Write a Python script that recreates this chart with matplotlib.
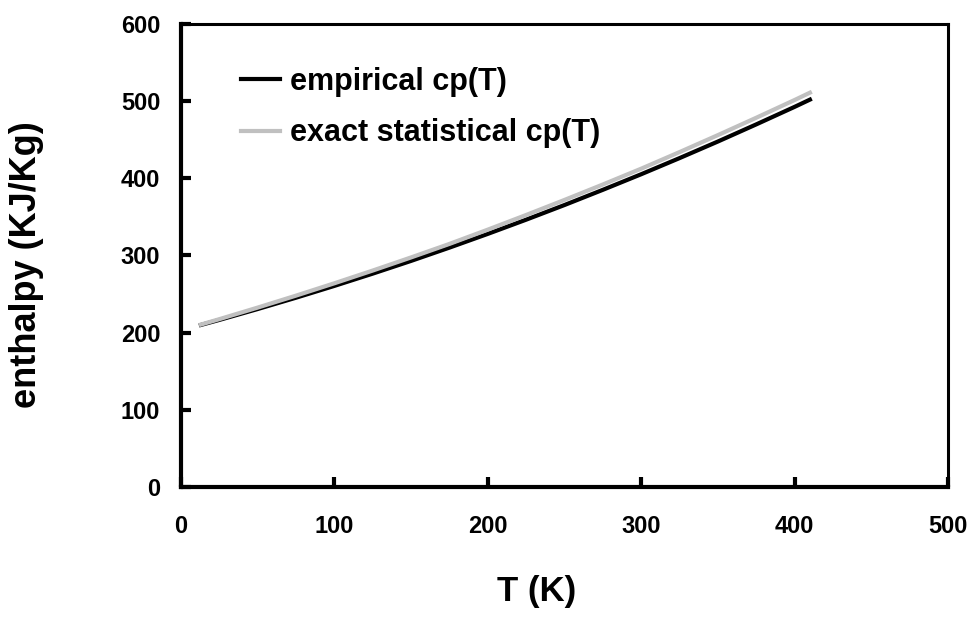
import numpy as np
import matplotlib
matplotlib.use("Agg")
import matplotlib.pyplot as plt

# temperature (K) and enthalpy (KJ/Kg)
T = [13, 25, 50, 75, 100, 125, 150, 175, 200, 225, 250, 275, 300, 325, 350, 375, 400, 410]
h_empirical = [210.0, 216.5, 230.6, 245.3, 260.6, 276.5, 293.0, 310.2, 328.0, 346.4,
               365.4, 385.1, 405.3, 426.2, 447.7, 469.9, 492.6, 502.0]
h_exact = [210.5, 217.5, 232.5, 248.0, 264.0, 280.5, 297.5, 315.0, 333.5, 352.5,
           372.0, 392.0, 412.5, 434.0, 456.0, 478.5, 501.5, 511.0]

xticks = [0, 100, 200, 300, 400, 500]
yticks = [0, 100, 200, 300, 400, 500, 600]

plt.rcParams['font.family'] = ['Liberation Sans', 'DejaVu Sans']
plt.rcParams['font.weight'] = 'bold'

fig = plt.figure(figsize=(9.75, 6.17), dpi=100)
ax = fig.add_axes([0.1856, 0.2107, 0.7867, 0.7504])

ax.plot(T, h_empirical, color='black', lw=3, label='empirical cp(T)')
ax.plot(T, h_exact, color='#c0c0c0', lw=3, label='exact statistical cp(T)')

ax.set_xlim(0, 500)
ax.set_ylim(0, 600)
ax.set_xticks(xticks)
ax.set_yticks(yticks)
ax.tick_params(direction='in', length=7, width=3, labelsize=17)
ax.tick_params(axis='x', pad=20)
ax.tick_params(axis='y', pad=15)
for lab in ax.get_xticklabels() + ax.get_yticklabels():
    lab.set_fontweight('bold')

for side in ['left', 'bottom']:
    ax.spines[side].set_linewidth(3)
for side in ['top', 'right']:
    ax.spines[side].set_linewidth(2.2)

ax.set_xlabel('T (K)', fontsize=25, fontweight='bold')
ax.xaxis.set_label_coords(0.464, -0.19)
ax.set_ylabel('enthalpy (KJ/Kg)', fontsize=26, fontweight='bold')
ax.yaxis.set_label_coords(-0.178, 0.48)

ax.legend(loc='upper left', bbox_to_anchor=(0.058, 0.94), frameon=False,
          handlelength=1.3, handletextpad=0.3, labelspacing=0.7,
          borderpad=0, prop={'weight': 'bold', 'size': 22})

plt.savefig('out.png', dpi=100)
